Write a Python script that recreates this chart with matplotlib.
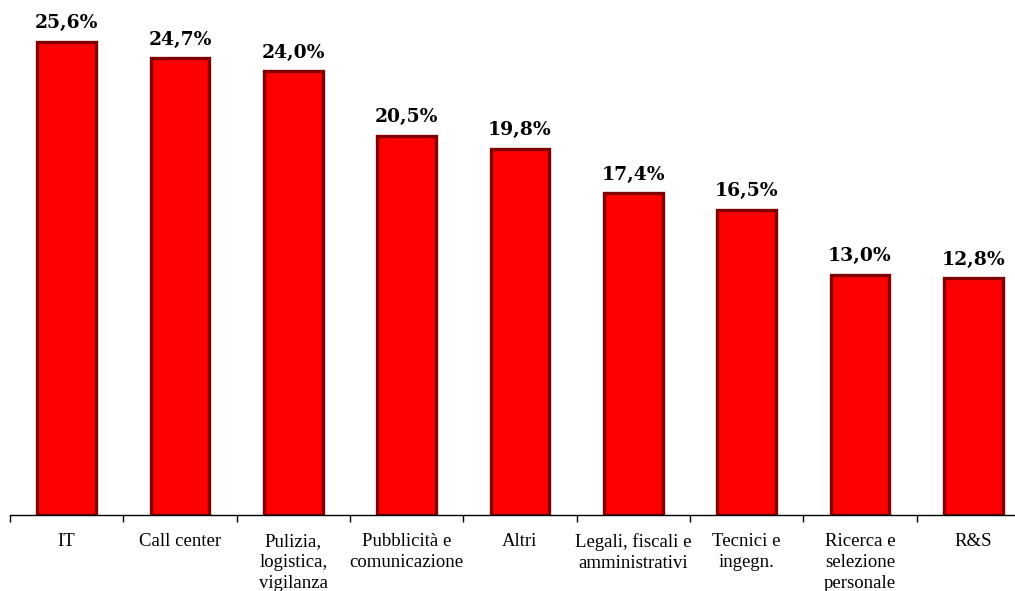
import numpy as np
import matplotlib.pyplot as plt
from matplotlib.ticker import FixedLocator, NullFormatter

categories = ['IT', 'Call center', 'Pulizia,\nlogistica,\nvigilanza',
              'Pubblicità e\ncomunicazione', 'Altri',
              'Legali, fiscali e\namministrativi', 'Tecnici e\ningegn.',
              'Ricerca e\nselezione\npersonale', 'R&S']
values = [25.6, 24.7, 24.0, 20.5, 19.8, 17.4, 16.5, 13.0, 12.8]
value_labels = ['25,6%', '24,7%', '24,0%', '20,5%', '19,8%',
                '17,4%', '16,5%', '13,0%', '12,8%']

fig = plt.figure(figsize=(10.15, 5.91), dpi=100)
# the plot area runs a bit past the right edge of the canvas
ax = fig.add_axes([10/1015, 76/591, 1020/1015, 515/591])

x = np.arange(len(categories))
ax.bar(x, values, width=0.52, color='#ff0000', edgecolor='#800000',
       linewidth=2.4, zorder=2)

for xi, v, lab in zip(x, values, value_labels):
    ax.text(xi, v + 0.52, lab, ha='center', va='bottom', fontsize=13.5,
            fontweight='heavy', family='DejaVu Serif')

ax.set_xlim(-0.5, len(categories) - 0.5)
ax.set_ylim(0, 27.85)

for s in ['top', 'right', 'left']:
    ax.spines[s].set_visible(False)
ax.spines['bottom'].set_linewidth(1.0)
ax.set_yticks([])

ax.set_xticks(x)
ax.set_xticklabels(categories, family='Liberation Serif', fontsize=13.5,
                   linespacing=1.32)
ax.tick_params(axis='x', which='major', length=0, pad=13)
ax.xaxis.set_minor_locator(FixedLocator(np.arange(-0.5, len(categories), 1.0)))
ax.xaxis.set_minor_formatter(NullFormatter())
ax.tick_params(axis='x', which='minor', length=5, width=1.0)

fig.savefig('out.png', dpi=100)
